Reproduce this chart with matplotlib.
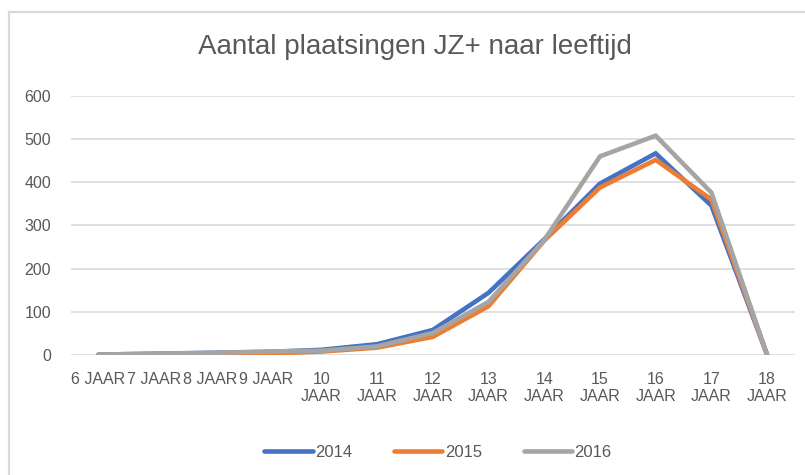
import matplotlib.pyplot as plt
from matplotlib.lines import Line2D

plt.rcParams['font.family'] = ['Liberation Sans', 'DejaVu Sans']

# ---- data ----
ages = ['6 JAAR', '7 JAAR', '8 JAAR', '9 JAAR', '10\nJAAR', '11\nJAAR', '12\nJAAR',
        '13\nJAAR', '14\nJAAR', '15\nJAAR', '16\nJAAR', '17\nJAAR', '18\nJAAR']
v2014 = [1, 3, 5, 7, 12, 25, 58, 144, 268, 397, 467, 346, 0]
v2015 = [0, 1, 2, 3, 8, 17, 42, 113, 265, 388, 452, 360, 0]
v2016 = [1, 3, 5, 8, 10, 20, 51, 123, 266, 460, 508, 376, 0]
years = ['2014', '2015', '2016']
colors = ['#4472C4', '#ED7D31', '#A5A5A5']

W, H = 805, 475
fig = plt.figure(figsize=(W / 100, H / 100), dpi=100)
ax = fig.add_axes([0.0876, 0.2526, 0.9, 0.5454])

x = range(len(ages))
for vals, lab, c in zip([v2014, v2015, v2016], years, colors):
    ax.plot(x, vals, color=c, lw=3.3, label=lab, solid_capstyle='round', solid_joinstyle='miter')

ax.set_xlim(-0.5, len(ages) - 0.5)
ax.set_ylim(0, 600)
ax.set_yticks(range(0, 601, 100))
ax.set_xticks(list(x))
ax.set_xticklabels(ages)
ax.grid(axis='y', color='#D9D9D9', lw=1.2)
ax.set_axisbelow(True)
for s in ax.spines.values():
    s.set_visible(False)
ax.tick_params(axis='both', length=0, labelsize=11.5, labelcolor='#595959')
ax.tick_params(axis='y', pad=14)
ax.tick_params(axis='x', pad=12)

fig.text(0.515, 0.90, 'Aantal plaatsingen JZ+ naar leeftijd', ha='center', va='center',
         fontsize=20, color='#595959')

fig.legend(loc='center', bbox_to_anchor=(0.544, 0.048), ncol=3, frameon=False,
           fontsize=12, labelcolor='#595959', handlelength=2.9, handletextpad=0.15,
           columnspacing=2.5)

# chart frame (only top and left edges are visible in the crop)
fig.add_artist(Line2D([8.5 / W, 1], [1 - 11.5 / H, 1 - 11.5 / H], transform=fig.transFigure,
                      color='#D9D9D9', lw=1.6))
fig.add_artist(Line2D([8.5 / W, 8.5 / W], [0, 1 - 11.5 / H], transform=fig.transFigure,
                      color='#D9D9D9', lw=1.6))

fig.savefig('out.png', dpi=100)
